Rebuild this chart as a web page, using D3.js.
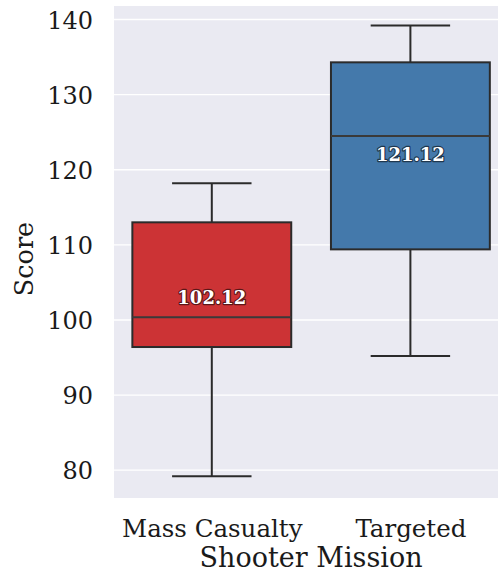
<!DOCTYPE html>
<html>
<head>
<meta charset="utf-8">
<script src="https://cdn.jsdelivr.net/npm/d3@7"></script>
<style>
  html, body { margin: 0; padding: 0; background: #ffffff; }
  svg { display: block; }
  text { font-family: "DejaVu Serif", serif; }
</style>
</head>
<body>
<div id="chart"></div>
<script>
// Box-plot summaries of score per shooter mission
const categories = ["Mass Casualty", "Targeted"];
const whiskerLow  = [79.2, 95.2];
const quartile1   = [96.4, 109.4];
const medians     = [100.35, 124.5];
const quartile3   = [113.0, 134.3];
const whiskerHigh = [118.2, 139.2];
const means       = [102.12, 121.12];
const boxColors   = ["#cc3335", "#4479ab"];
const yTicks      = [80, 90, 100, 110, 120, 130, 140];

const W = 498, H = 573;
const plot = { left: 114, right: 510, top: 6, bottom: 498 };

const svg = d3.select("#chart").append("svg")
  .attr("width", W).attr("height", H);

// Categorical positions 0..n-1, padded half a slot on each side
const x = d3.scaleLinear()
  .domain([-0.5, categories.length - 0.5])
  .range([112.5, 509.7]);
const y = d3.scaleLinear()
  .domain([76.3, 141.8])
  .range([plot.bottom, plot.top]);

// Panel background
svg.append("rect")
  .attr("x", plot.left).attr("y", plot.top)
  .attr("width", W - plot.left).attr("height", plot.bottom - plot.top)
  .attr("fill", "#eaeaf2");

// Horizontal grid
svg.append("g").selectAll("line").data(yTicks).join("line")
  .attr("x1", plot.left).attr("x2", W)
  .attr("y1", d => y(d)).attr("y2", d => y(d))
  .attr("stroke", "#ffffff").attr("stroke-width", 1.3);

// Y axis labels
const yAxis = d3.axisLeft(y).tickValues(yTicks).tickSize(0).tickPadding(0);
const gy = svg.append("g").attr("transform", `translate(93,0)`).call(yAxis);
gy.select(".domain").remove();
gy.selectAll("text")
  .attr("font-family", "DejaVu Serif, serif")
  .attr("font-size", 24)
  .attr("fill", "#1a1a1a")
  .attr("dy", "0.36em");

// X axis labels
const xAxis = d3.axisBottom(x)
  .tickValues(d3.range(categories.length))
  .tickFormat(i => categories[i])
  .tickSize(0).tickPadding(0);
const gx = svg.append("g").attr("transform", `translate(0,537)`).call(xAxis);
gx.select(".domain").remove();
gx.selectAll("text")
  .attr("font-family", "DejaVu Serif, serif")
  .attr("font-size", 24.5)
  .attr("fill", "#1a1a1a")
  .attr("y", 0)
  .attr("dy", 0);

// Axis titles
svg.append("text")
  .attr("x", (x(0) + x(1)) / 2).attr("y", 567)
  .attr("text-anchor", "middle")
  .attr("font-size", 27).attr("fill", "#1a1a1a")
  .text("Shooter Mission");
svg.append("text")
  .attr("transform", `translate(33,259) rotate(-90)`)
  .attr("text-anchor", "middle")
  .attr("font-size", 25.5).attr("fill", "#1a1a1a")
  .text("Score");

const lineColor = "#2b2b2b";
const boxW = x(0.4) - x(0);      // half width of a box
const capW = x(0.2) - x(0);      // half width of a whisker cap
const idx = d3.range(categories.length);

const boxes = svg.append("g").selectAll("g").data(idx).join("g");

// Whiskers
boxes.append("line")
  .attr("x1", i => x(i)).attr("x2", i => x(i))
  .attr("y1", i => y(whiskerHigh[i])).attr("y2", i => y(quartile3[i]))
  .attr("stroke", lineColor).attr("stroke-width", 2);
boxes.append("line")
  .attr("x1", i => x(i)).attr("x2", i => x(i))
  .attr("y1", i => y(quartile1[i])).attr("y2", i => y(whiskerLow[i]))
  .attr("stroke", lineColor).attr("stroke-width", 2);
// Caps
boxes.append("line")
  .attr("x1", i => x(i) - capW).attr("x2", i => x(i) + capW)
  .attr("y1", i => y(whiskerHigh[i])).attr("y2", i => y(whiskerHigh[i]))
  .attr("stroke", lineColor).attr("stroke-width", 2);
boxes.append("line")
  .attr("x1", i => x(i) - capW).attr("x2", i => x(i) + capW)
  .attr("y1", i => y(whiskerLow[i])).attr("y2", i => y(whiskerLow[i]))
  .attr("stroke", lineColor).attr("stroke-width", 2);
// Interquartile box
boxes.append("rect")
  .attr("x", i => x(i) - boxW).attr("width", 2 * boxW)
  .attr("y", i => y(quartile3[i]))
  .attr("height", i => y(quartile1[i]) - y(quartile3[i]))
  .attr("fill", i => boxColors[i])
  .attr("stroke", lineColor).attr("stroke-width", 2);
// Median
boxes.append("line")
  .attr("x1", i => x(i) - boxW).attr("x2", i => x(i) + boxW)
  .attr("y1", i => y(medians[i])).attr("y2", i => y(medians[i]))
  .attr("stroke", "#3a3a3a").attr("stroke-width", 2);

// Mean labels
boxes.append("text")
  .attr("x", i => x(i)).attr("y", i => y(means[i]) - 6.5)
  .attr("text-anchor", "middle").attr("dominant-baseline", "central")
  .attr("font-size", 18).attr("font-weight", "bold")
  .attr("fill", "#ffffff")
  .attr("stroke", (i) => d3.color(boxColors[i]).darker(2.2))
  .attr("stroke-width", 2.4).attr("paint-order", "stroke")
  .attr("stroke-linejoin", "round")
  .text(i => means[i].toFixed(2));
</script>
</body>
</html>
